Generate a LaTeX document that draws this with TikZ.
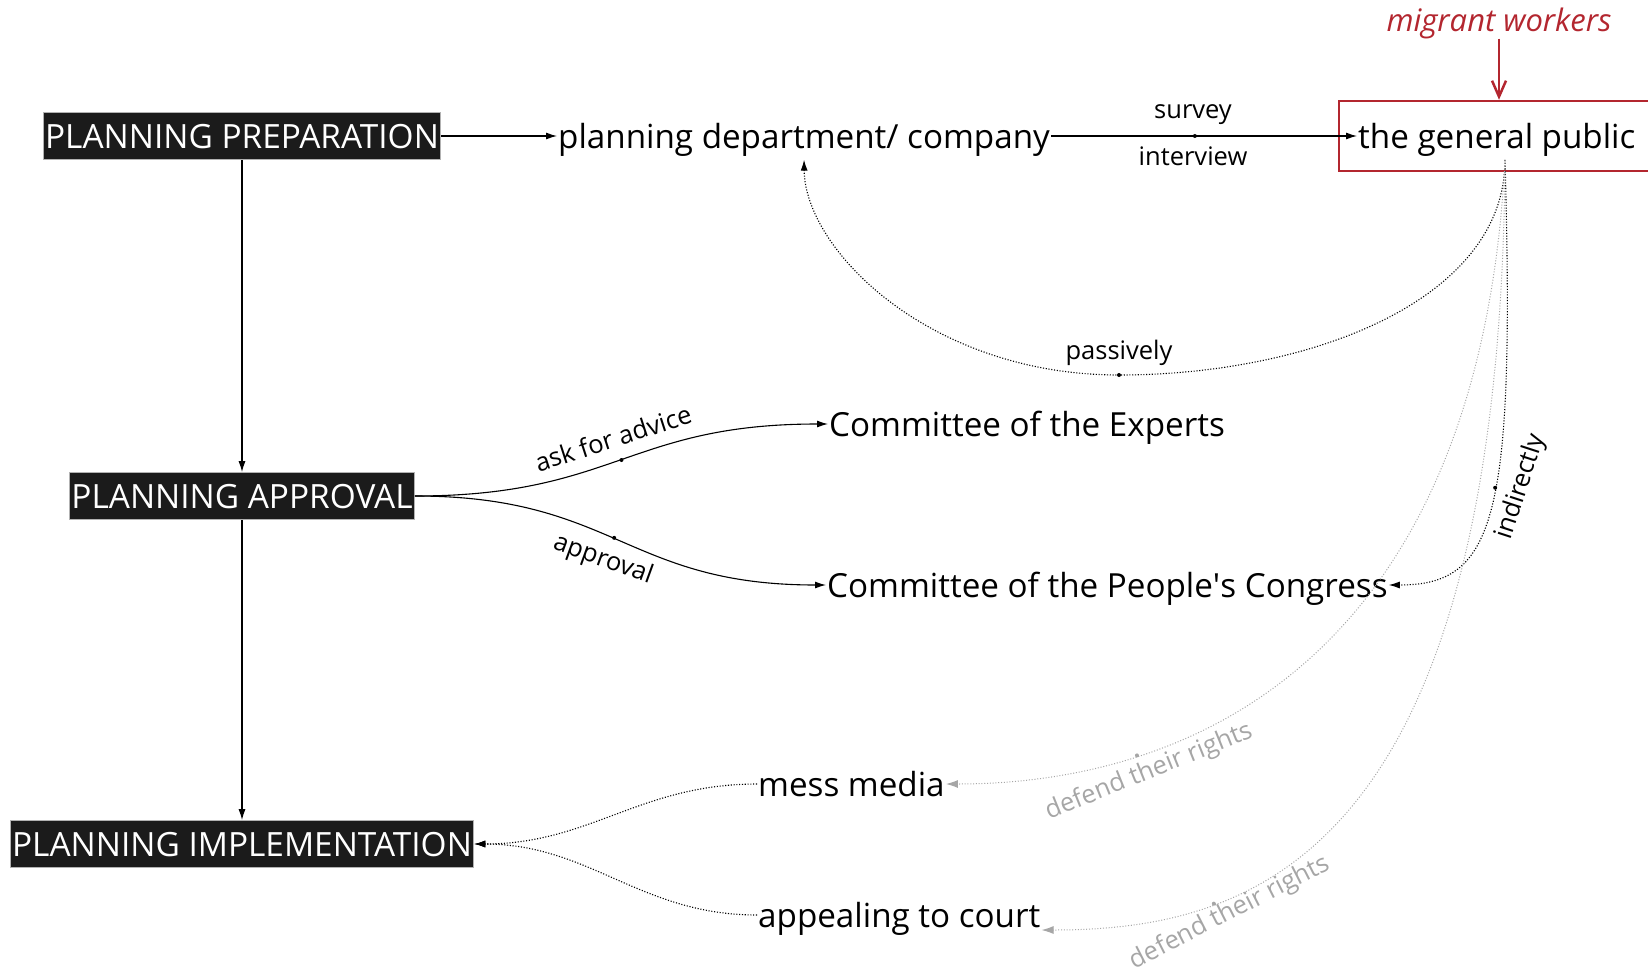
\documentclass[tikz,border=0pt]{standalone}
\usepackage{fontspec}
\setmainfont{Open Sans}
\usetikzlibrary{arrows.meta,fit}
\definecolor{boxfill}{HTML}{1B1B1B}
\definecolor{redc}{HTML}{B3262F}
\definecolor{grayc}{HTML}{A6A6A6}
\begin{document}
\begin{tikzpicture}[x=1pt,y=-1pt,
  stagebox/.style={fill=boxfill, draw=gray!60, line width=0.8pt, text=white,
    font=\fontsize{33.4}{38}\selectfont, inner xsep=2pt, inner ysep=0pt,
    minimum height=47pt, text height=24pt, text depth=0pt},
  lbl/.style={font=\fontsize{33.2}{39}\selectfont, inner sep=1pt, text height=29pt, text depth=4pt},
  small/.style={font=\fontsize{25.5}{30}\selectfont, inner sep=0pt},
  arr/.style={-{Latex[length=11pt,width=7pt]}, line width=1.1pt},
  dotarr/.style={-{Latex[length=11pt,width=7pt]}, line width=1.1pt, dash pattern=on 1.1pt off 1.7pt},
  grayarr/.style={-{Latex[length=12pt,width=8pt]}, draw=grayc, line width=1pt, dash pattern=on 1pt off 1.8pt},
  mid/.style={circle, fill, inner sep=0pt, minimum size=4pt},
  graymid/.style={circle, fill=grayc, inner sep=0pt, minimum size=4pt}]
\useasboundingbox (0,0) rectangle (1648,971);

% stages
\node[stagebox] (prep) at (242,136) {PLANNING PREPARATION};
\node[stagebox] (appr) at (242,496) {PLANNING APPROVAL};
\node[stagebox] (impl) at (242,844) {PLANNING IMPLEMENTATION};

% actors
\node[lbl, anchor=west] (dept) at (557,136) {planning department/ company};
\node[lbl, anchor=west] (gp) at (1357,136) {the general public};
\node[draw=redc, line width=2pt, fit=(gp), inner xsep=18pt, inner ysep=17.5pt] (gpbox) {};
\node[text=redc, inner sep=0pt, font=\itshape\fontsize{31}{36}\selectfont] (mig) at (1499,23) {migrant workers};
\node[lbl, anchor=west] (exp) at (828,424) {Committee of the Experts};
\node[lbl, anchor=west] (pc) at (826,585) {Committee of the People\textquotesingle s Congress};
\node[lbl, anchor=west] (mess) at (757,784) {mess media};
\node[lbl, anchor=west] (court) at (757,915) {appealing to court};

\coordinate (gpout) at (1505,160);
\coordinate (courtin) at ([yshift=-15pt]court.east);
\coordinate (deptin) at ([yshift=-6pt]dept.south);

% red arrow
\draw[redc, line width=2.5pt, -{Straight Barb[length=16pt,width=14pt]}] (mig.south) -- (mig.south |- gpbox.north);

% solid connectors
\draw[arr] (prep) -- (dept);
\draw[arr] (dept) -- node[mid, pos=0.47]{} (gp);
\node[small] (lsurvey) at (1193,115) {survey};
\node[small] (linterview) at (1193,156) {interview};
\draw[arr] (prep) -- (appr);
\draw[arr] (appr) -- (impl);
\draw[arr] (appr.east) .. controls +(200,0) and +(-200,0) .. node[mid, pos=0.5]{} (exp.west);
\node[small, rotate=18] (lask) at (613,438) {ask for advice};
\draw[arr] (appr.east) .. controls +(200,0) and +(-200,0) .. node[mid, pos=0.48]{} (pc.west);
\node[small, rotate=-20] (lappr) at (603,560) {approval};

% dotted feedback
\draw[dotarr] (gpout) .. controls (1505,300) and (1310,375) .. (1119,375) coordinate (pbot)
  .. controls (930,375) and (805,250) .. (deptin);
\node[mid] at (pbot) {};
\node[small] (lpass) at (1119,353) {passively};
\draw[dotarr] (gpout) .. controls (1515,520) and (1495,585) .. node[mid, pos=0.45]{} (pc.east);
\node[small, rotate=72] (lind) at (1521,487) {indirectly};

\draw[grayarr] (gpout) .. controls (1480,650) and (1200,784) .. node[graymid, pos=0.75]{} (mess.east);
\node[small, text=grayc, rotate=22] (ldef1) at (1149,772) {defend their rights};
\draw[grayarr] (gpout) .. controls (1500,860) and (1250,930) .. node[graymid, pos=0.73]{} (courtin);
\node[small, text=grayc, rotate=27] (ldef2) at (1230,913) {defend their rights};

\draw[dotarr] (mess.west) .. controls (640,784) and (590,844) .. (impl.east);
\draw[dotarr] (court.west) .. controls (640,915) and (590,844) .. (impl.east);
\end{tikzpicture}
\end{document}
